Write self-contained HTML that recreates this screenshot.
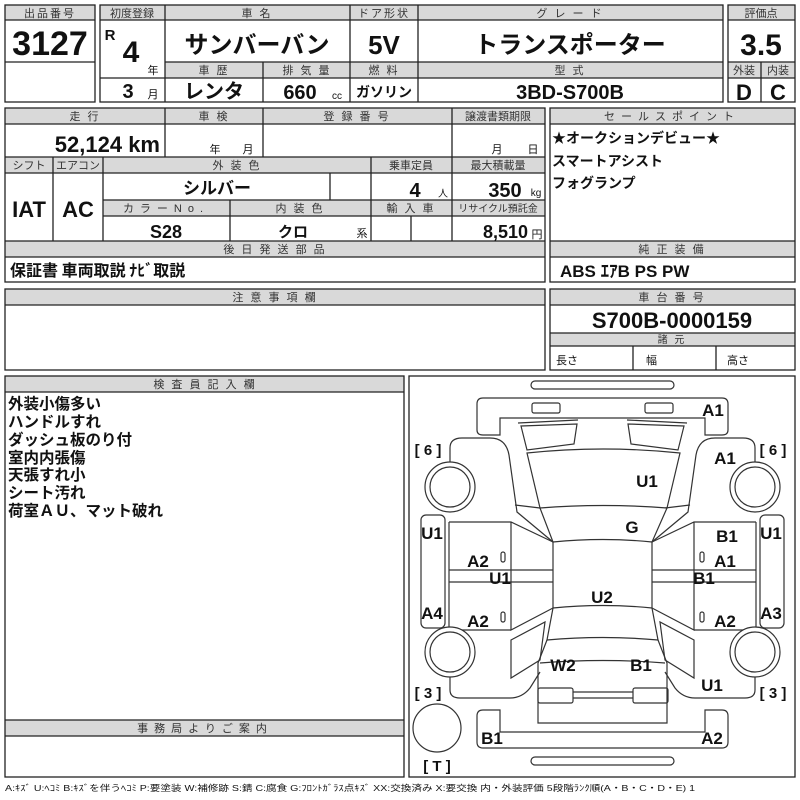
<!DOCTYPE html>
<html><head><meta charset="utf-8"><style>
html,body{margin:0;padding:0;background:#fff;width:800px;height:800px;overflow:hidden}
svg{display:block}
text{font-family:"Liberation Sans","Noto Sans CJK JP",sans-serif;fill:#111}
.h{font-size:11px;text-anchor:middle;fill:#333;letter-spacing:2px}
.b{font-family:"Liberation Sans Narrow","Liberation Sans","Noto Sans CJK JP",sans-serif;font-weight:bold;text-anchor:middle}
.j{font-family:"Noto Sans CJK JP",sans-serif;font-weight:bold}
.g{fill:#d9d9d9}
.ln{stroke:#222;stroke-width:1.3;fill:none}
.c{stroke:#333;stroke-width:1.2;fill:#fff}
.cl{font-family:"Liberation Sans","Noto Sans CJK JP",sans-serif;font-weight:bold;font-size:17px;text-anchor:middle}
</style></head><body>
<svg width="800" height="800" viewBox="0 0 800 800" xmlns="http://www.w3.org/2000/svg">
<!-- box1 -->
<rect class="g" x="5" y="5" width="90" height="15"/>
<rect class="ln" x="5" y="5" width="90" height="97"/>
<path class="ln" d="M5,20H95M5,62H95"/>
<text class="h" x="50" y="17">出品番号</text>
<text class="b" x="50" y="55" font-size="34">3127</text>
<!-- box2 -->
<rect class="g" x="100" y="5" width="623" height="15"/>
<rect class="g" x="165" y="62" width="558" height="16"/>
<rect class="ln" x="100" y="5" width="623" height="97"/>
<path class="ln" d="M100,20H723M165,62H723M100,78H723M165,5V102M350,5V102M418,5V102M263,62V102"/>
<text class="h" x="132" y="17" style="letter-spacing:0">初度登録</text>
<text class="h" x="257" y="17">車 名</text>
<text class="h" x="384" y="17">ドア形状</text>
<text class="h" x="570" y="17">グ レ ー ド</text>
<text class="b" x="110" y="40" font-size="15">R</text>
<text class="b" x="131" y="62" font-size="30">4</text>
<text x="153" y="74" font-size="11" text-anchor="middle">年</text>
<text class="b" x="128" y="98" font-size="20">3</text>
<text x="153" y="98" font-size="11" text-anchor="middle">月</text>
<text class="b j" x="257" y="53" font-size="24">サンバーバン</text>
<text class="b" x="384" y="54" font-size="26">5V</text>
<text class="b j" x="570" y="53" font-size="24">トランスポーター</text>
<text class="h" x="214" y="74">車 歴</text>
<text class="h" x="307" y="74">排 気 量</text>
<text class="h" x="384" y="74">燃 料</text>
<text class="h" x="570" y="74">型 式</text>
<text class="b j" x="214" y="98" font-size="20">レンタ</text>
<text class="b" x="300" y="99" font-size="20">660</text>
<text x="337" y="99" font-size="10" text-anchor="middle">cc</text>
<text class="b j" x="384" y="97" font-size="14">ガソリン</text>
<text class="b" x="570" y="99" font-size="20">3BD-S700B</text>
<!-- score -->
<rect class="g" x="728" y="5" width="67" height="15"/>
<rect class="g" x="728" y="62" width="67" height="16"/>
<rect class="ln" x="728" y="5" width="67" height="97"/>
<path class="ln" d="M728,20H795M728,62H795M728,78H795M761,62V102"/>
<text class="h" x="761" y="17" style="letter-spacing:0">評価点</text>
<text class="b" x="761" y="55" font-size="30">3.5</text>
<text class="h" x="744" y="74" style="letter-spacing:0">外装</text>
<text class="h" x="778" y="74" style="letter-spacing:0">内装</text>
<text class="b" x="744" y="100" font-size="22">D</text>
<text class="b" x="778" y="100" font-size="22">C</text>
<!-- section2 -->
<rect class="g" x="5" y="108" width="540" height="16"/>
<rect class="g" x="5" y="157" width="540" height="16"/>
<rect class="g" x="103" y="200" width="442" height="16"/>
<rect class="g" x="5" y="241" width="540" height="16"/>
<rect class="ln" x="5" y="108" width="540" height="174"/>
<path class="ln" d="M5,124H545M5,157H545M5,173H545M103,200H545M103,216H545M5,241H545M5,257H545M165,108V157M263,108V157M452,108V241M53,157V241M103,157V241M371,157V241M330,173V200M230,200V241M411,216V241"/>
<text class="h" x="85" y="120">走 行</text>
<text class="h" x="214" y="120">車 検</text>
<text class="h" x="357" y="120">登 録 番 号</text>
<text class="h" x="498" y="120" style="letter-spacing:0">譲渡書類期限</text>
<text class="b" x="160" y="152" font-size="22" style="text-anchor:end">52,124 km</text>
<text x="215" y="153" font-size="11" text-anchor="middle">年</text>
<text x="248" y="153" font-size="11" text-anchor="middle">月</text>
<text x="497" y="153" font-size="11" text-anchor="middle">月</text>
<text x="533" y="153" font-size="11" text-anchor="middle">日</text>
<text class="h" x="29" y="169" style="letter-spacing:0">シフト</text>
<text class="h" x="78" y="169" style="letter-spacing:0">エアコン</text>
<text class="h" x="237" y="169">外 装 色</text>
<text class="h" x="411" y="169" style="letter-spacing:0">乗車定員</text>
<text class="h" x="498" y="169" style="letter-spacing:0">最大積載量</text>
<text class="b" x="29" y="217" font-size="22">IAT</text>
<text class="b" x="78" y="217" font-size="22">AC</text>
<text class="b j" x="217" y="194" font-size="17">シルバー</text>
<text class="b" x="415" y="197" font-size="20">4</text>
<text x="443" y="197" font-size="10" text-anchor="middle">人</text>
<text class="b" x="505" y="197" font-size="20">350</text>
<text x="536" y="196" font-size="10" text-anchor="middle">kg</text>
<text class="h" x="166" y="212" style="letter-spacing:6px">カラーNo.</text>
<text class="h" x="300" y="212">内 装 色</text>
<text class="h" x="411" y="212">輸 入 車</text>
<text class="h" x="498" y="212" style="letter-spacing:0;font-size:10px">リサイクル預託金</text>
<text class="b" x="166" y="238" font-size="18">S28</text>
<text class="b j" x="293" y="237" font-size="15">クロ</text>
<text x="362" y="237" font-size="11" text-anchor="middle">系</text>
<text class="b" x="528" y="238" font-size="18" style="text-anchor:end">8,510</text>
<text x="537" y="238" font-size="11" text-anchor="middle">円</text>
<text class="h" x="275" y="253">後 日 発 送 部 品</text>
<text class="j" x="10" y="276" font-size="16">保証書 車両取説 ﾅﾋﾞ取説</text>
<!-- sales -->
<rect class="g" x="550" y="108" width="245" height="16"/>
<rect class="g" x="550" y="241" width="245" height="16"/>
<rect class="ln" x="550" y="108" width="245" height="174"/>
<path class="ln" d="M550,124H795M550,241H795M550,257H795"/>
<text class="h" x="672" y="120" style="letter-spacing:6px">セールスポイント</text>
<text class="j" x="552" y="143" font-size="14">★オークションデビュー★</text>
<text class="j" x="552" y="166" font-size="14">スマートアシスト</text>
<text class="j" x="552" y="188" font-size="14">フォグランプ</text>
<text class="h" x="672" y="253">純 正 装 備</text>
<text class="b" x="560" y="277" font-size="17" style="text-anchor:start">ABS ｴｱB PS PW</text>
<!-- caution -->
<rect class="g" x="5" y="289" width="540" height="16"/>
<rect class="ln" x="5" y="289" width="540" height="81"/>
<path class="ln" d="M5,305H545"/>
<text class="h" x="275" y="301">注 意 事 項 欄</text>
<!-- chassis -->
<rect class="g" x="550" y="289" width="245" height="16"/>
<rect class="g" x="550" y="333" width="245" height="13"/>
<rect class="ln" x="550" y="289" width="245" height="81"/>
<path class="ln" d="M550,305H795M550,333H795M550,346H795M633,346V370M716,346V370"/>
<text class="h" x="672" y="301">車 台 番 号</text>
<text class="b" x="672" y="328" font-size="22">S700B-0000159</text>
<text class="h" x="672" y="343" style="font-size:10px">諸 元</text>
<text x="556" y="364" font-size="11">長さ</text>
<text x="646" y="364" font-size="11">幅</text>
<text x="727" y="364" font-size="11">高さ</text>
<!-- inspector -->
<rect class="g" x="5" y="376" width="399" height="16"/>
<rect class="g" x="5" y="720" width="399" height="16"/>
<rect class="ln" x="5" y="376" width="399" height="401"/>
<path class="ln" d="M5,392H404M5,720H404M5,736H404"/>
<text class="h" x="205" y="388">検 査 員 記 入 欄</text>
<text class="h" x="205" y="732" style="letter-spacing:6px">事務局よりご案内</text>
<g class="j" font-size="15.5">
<text x="8" y="409">外装小傷多い</text>
<text x="8" y="427">ハンドルすれ</text>
<text x="8" y="445">ダッシュ板のり付</text>
<text x="8" y="463">室内内張傷</text>
<text x="8" y="480">天張すれ小</text>
<text x="8" y="498">シート汚れ</text>
<text x="8" y="516">荷室ＡＵ、マット破れ</text>
</g>
<text x="5" y="791" font-size="8.5" fill="#333" textLength="690" lengthAdjust="spacingAndGlyphs">A:ｷｽﾞ U:ﾍｺﾐ B:ｷｽﾞを伴うﾍｺﾐ P:要塗装 W:補修跡 S:錆 C:腐食 G:ﾌﾛﾝﾄｶﾞﾗｽ点ｷｽﾞ XX:交換済み X:要交換  内・外装評価 5段階ﾗﾝｸ順(A・B・C・D・E) 1</text>
<!-- car diagram -->
<rect class="ln" x="409" y="376" width="386" height="401"/>
<g stroke="#333" stroke-width="1.2" fill="none">
<rect x="531" y="381" width="143" height="8" rx="4"/>
<rect x="531" y="757" width="143" height="8" rx="4"/>
<path d="M477,404Q477,398 483,398L722,398Q728,398 728,404L728,430Q728,435 722,435L705,435L705,418L500,418L500,435L483,435Q477,435 477,430Z"/>
<path d="M477,716Q477,710 483,710L500,710L500,732L705,732L705,710L722,710Q728,710 728,716L728,742Q728,748 722,748L483,748Q477,748 477,742Z"/>
<rect x="532" y="403" width="28" height="10" rx="2"/>
<rect x="645" y="403" width="28" height="10" rx="2"/>
<path d="M527,453Q603,445 680,453L667,508Q603,503 540,508Z"/>
<path d="M540,508L553,542Q603,537 652,542L667,508"/>
<path d="M553,542L553,608Q603,603 652,608L652,542"/>
<path d="M553,608L547,640Q603,635 658,640L652,608"/>
<path d="M547,640L538,663L538,723L667,723L667,663L658,640"/>
<path d="M540,663Q603,658 665,663"/>
<rect x="538" y="688" width="35" height="15" rx="2"/>
<rect x="633" y="688" width="35" height="15" rx="2"/>
<path d="M573,692H633M573,698H633"/>
<g id="half">
<path d="M521,426L577,424L574,444L527,450Z"/>
<path d="M518,423L578,420"/>
<path d="M450,465L450,448Q450,438 462,438L490,438Q506,438 509,455L517,512L553,542"/>
<path d="M515,505L540,508"/>
<path d="M449,522L511,522L553,542M511,522L511,630L553,608M449,630L511,630M449,570L553,570M449,582L553,582M449,522L449,630"/>
<path d="M511,640L545,622L540,660L511,678Z"/>
<path d="M450,675L450,690Q450,698 460,698L510,698Q522,698 530,688L540,672"/>
<rect x="421" y="515" width="24" height="113" rx="5"/>
<circle cx="450" cy="487" r="25" fill="#fff"/><circle cx="450" cy="487" r="20"/>
<circle cx="450" cy="652" r="25" fill="#fff"/><circle cx="450" cy="652" r="20"/>
<rect x="501" y="552" width="4" height="10" rx="2"/>
<rect x="501" y="612" width="4" height="10" rx="2"/>
</g>
<use href="#half" transform="translate(1205,0) scale(-1,1)"/>
<circle cx="437" cy="728" r="24"/>
</g>
<g font-size="15" font-weight="bold" text-anchor="middle">
<text x="428" y="455">[ 6 ]</text><text x="773" y="455">[ 6 ]</text>
<text x="428" y="698">[ 3 ]</text><text x="773" y="698">[ 3 ]</text>
<text x="437" y="771">[ T ]</text>
</g>
<g class="cl">
<text x="713" y="416">A1</text><text x="725" y="464">A1</text><text x="647" y="487">U1</text>
<text x="632" y="533">G</text><text x="727" y="542">B1</text><text x="432" y="539">U1</text><text x="771" y="539">U1</text>
<text x="478" y="567">A2</text><text x="725" y="567">A1</text><text x="500" y="584">U1</text><text x="704" y="584">B1</text>
<text x="602" y="603">U2</text><text x="432" y="619">A4</text><text x="771" y="619">A3</text>
<text x="478" y="627">A2</text><text x="725" y="627">A2</text>
<text x="563" y="671">W2</text><text x="641" y="671">B1</text><text x="712" y="691">U1</text>
<text x="492" y="744">B1</text><text x="712" y="744">A2</text>
</g>
</svg>
</body></html>
